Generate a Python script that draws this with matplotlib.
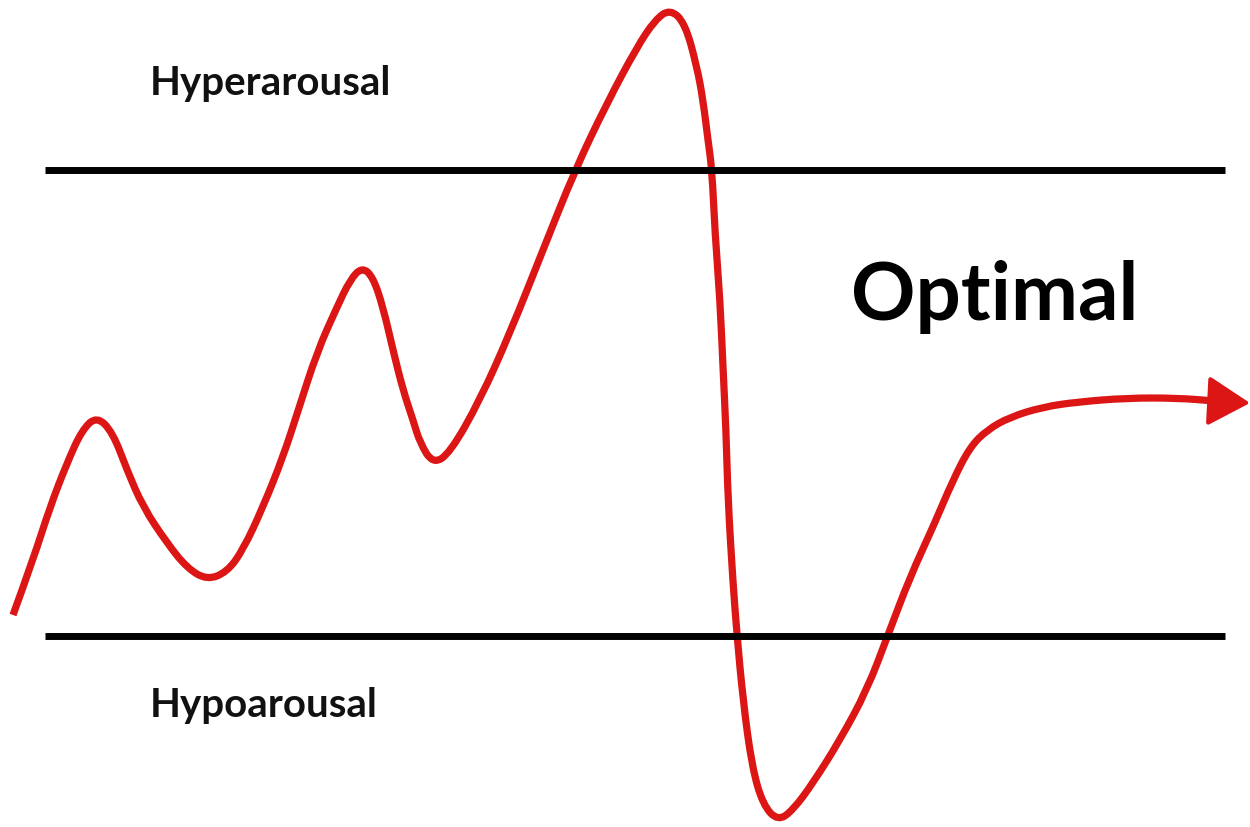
import matplotlib
matplotlib.use("Agg")
import matplotlib.pyplot as plt
from matplotlib.patches import FancyArrowPatch, PathPatch
from matplotlib.path import Path

# Curve points (pixel-like coordinates, y downwards)
curve_x = [13, 33, 50, 67, 82, 97, 113, 127, 143, 167, 187, 207, 227, 243, 263, 283,
           298, 317, 337, 350, 362, 373, 383, 393, 403, 413, 420, 433, 450, 480, 510,
           543, 575, 607, 637, 655, 670, 685, 697, 703, 708, 712, 715, 720, 723, 726,
           728, 733, 737, 743, 752, 763, 778, 793, 813, 840, 867, 888, 910, 933, 953,
           970, 987, 1010, 1043, 1077, 1127, 1177, 1215]
curve_y = [615, 560, 507, 463, 430, 416, 433, 470, 507, 543, 568, 580, 572, 550, 507, 457,
           411, 352, 307, 280, 267, 277, 307, 350, 390, 420, 443, 464, 453, 400, 333,
           250, 170, 103, 47, 20, 9, 23, 67, 100, 140, 170, 233, 300, 367, 430,
           500, 583, 635, 700, 767, 805, 821, 810, 783, 740, 690, 635, 577, 527, 480,
           447, 430, 417, 407, 402, 398, 398, 401]
arrow_tip = (1250, 403)

# Zone boundaries
upper_y = 170
lower_y = 636
line_x = [45, 1225]

labels = ["Hyperarousal", "Optimal", "Hypoarousal"]

RED = "#dc1515"

fig = plt.figure(figsize=(12.5, 8.27), dpi=100)
ax = fig.add_axes([0, 0, 1, 1])
ax.set_xlim(0, 1250)
ax.set_ylim(827, 0)
ax.axis("off")

ax.plot(line_x, [upper_y, upper_y], color="black", lw=5, solid_capstyle="butt")
ax.plot(line_x, [lower_y, lower_y], color="black", lw=5, solid_capstyle="butt")

# Smooth rendering: quadratic Bezier segments through midpoints of the read points
pts = list(zip(curve_x, curve_y))
verts = [pts[0]]
codes = [Path.MOVETO]
for i in range(1, len(pts) - 1):
    mid = ((pts[i][0] + pts[i + 1][0]) / 2, (pts[i][1] + pts[i + 1][1]) / 2)
    verts += [pts[i], mid]
    codes += [Path.CURVE3, Path.CURVE3]
verts.append(pts[-1])
codes.append(Path.LINETO)
ax.add_patch(PathPatch(Path(verts, codes), facecolor="none", edgecolor=RED, lw=5.2,
                       joinstyle="round", capstyle="butt"))

arr = FancyArrowPatch((curve_x[-1] - 4, curve_y[-1]), arrow_tip,
                      arrowstyle="-|>,head_length=1.1,head_width=0.65",
                      mutation_scale=24, color=RED, lw=3, shrinkA=0, shrinkB=0)
ax.add_patch(arr)

ax.text(150, 95, labels[0], fontsize=29, fontweight="bold", family="Lato",
        ha="left", va="baseline", color="#111111")
ax.text(851, 320, labels[1], fontsize=57.5, fontweight="bold", family="Lato",
        ha="left", va="baseline", color="#000000")
ax.text(150, 717, labels[2], fontsize=29, fontweight="bold", family="Lato",
        ha="left", va="baseline", color="#111111")

fig.savefig("out.png", dpi=100, facecolor="white")
